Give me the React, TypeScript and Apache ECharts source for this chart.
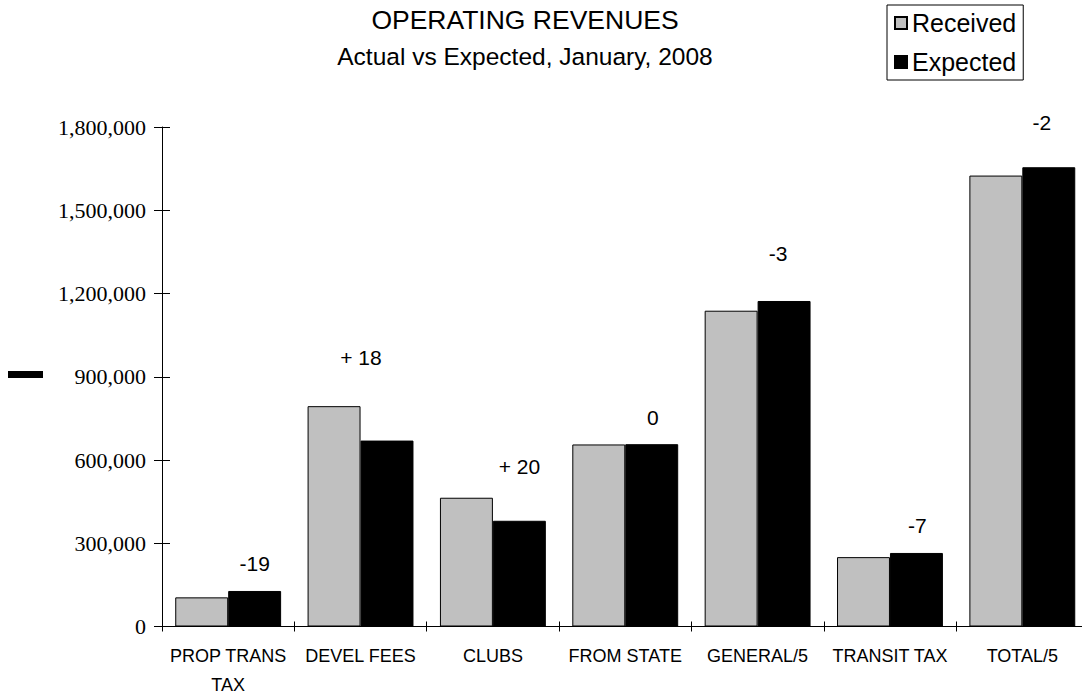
import React, { useEffect, useRef } from "react";
import * as echarts from "echarts";

const categories = ["PROP TRANS\nTAX", "DEVEL FEES", "CLUBS", "FROM STATE", "GENERAL/5", "TRANSIT TAX", "TOTAL/5"];
const received = [105000, 794000, 464000, 656000, 1138000, 250000, 1625000];
const expected = [128000, 670000, 381000, 657000, 1173000, 265000, 1655000];
const diffLabels = ["-19", "+ 18", "+ 20", "0", "-3", "-7", "-2"];
const yTicks = { min: 0, max: 1800000, interval: 300000 };

// label placement (layout only)
const labelOffsets = [[0, -16], [-26, -72], [0, -43], [1, -16], [-6, -36], [1, -16], [-7, -34]];

const SANS = "'Liberation Sans', Arial, sans-serif";
const SERIF = "'Liberation Serif', 'Times New Roman', serif";

export default function App() {
  const ref = useRef<HTMLDivElement>(null);
  useEffect(() => {
    if (!ref.current) return;
    const chart = echarts.init(ref.current, null, { renderer: "svg" });
    const fmt = (v: number) => v.toLocaleString("en-US");
    chart.setOption({
      animation: false,
      backgroundColor: "#fff",
      title: {
        text: "OPERATING REVENUES",
        subtext: "Actual vs Expected, January, 2008",
        left: 525,
        top: 5,
        textAlign: "center",
        padding: 0,
        itemGap: 6,
        textStyle: { fontFamily: SANS, fontSize: 26.5, fontWeight: "normal", color: "#000", lineHeight: 30 },
        subtextStyle: { fontFamily: SANS, fontSize: 24.5, color: "#000", lineHeight: 30 },
      },
      legend: {
        orient: "vertical",
        left: 887,
        top: 5,
        padding: [4, 7, 4, 7],
        itemGap: 11,
        itemWidth: 12,
        itemHeight: 12,
        icon: "rect",
        borderColor: "#000",
        borderWidth: 1,
        textStyle: { fontFamily: SANS, fontSize: 25, color: "#000", lineHeight: 28 },
        data: ["Received", "Expected"],
      },
      graphic: [
        { type: "rect", shape: { x: 8, y: 371, width: 35, height: 7 }, style: { fill: "#000" } },
      ],
      grid: {
        left: 162,
        right: -6.5,
        top: 127,
        bottom: 68.5,
        containLabel: false,
        outerBoundsMode: "none",
      },
      xAxis: [
        {
          type: "category",
          data: categories,
          position: "bottom",
          axisLine: { show: true, lineStyle: { color: "#000", width: 1 } },
          axisTick: { show: true, length: 5, inside: false, lineStyle: { color: "#000" } },
          axisLabel: {
            fontFamily: SANS,
            fontSize: 18,
            lineHeight: 29,
            color: "#000",
            margin: 15,
            interval: 0,
          },
          splitLine: { show: false },
        },
        {
          type: "category",
          data: categories,
          position: "bottom",
          axisLine: { show: false },
          axisTick: { show: true, length: 5, inside: true, lineStyle: { color: "#000" } },
          axisLabel: { show: false },
          splitLine: { show: false },
        },
      ],
      yAxis: [
        {
          type: "value",
          position: "left",
          min: yTicks.min,
          max: yTicks.max,
          interval: yTicks.interval,
          axisLine: { show: true, lineStyle: { color: "#000", width: 1 } },
          axisTick: { show: true, length: 8, inside: false, lineStyle: { color: "#000" } },
          axisLabel: { fontFamily: SERIF, fontSize: 22, color: "#000", margin: 16, formatter: fmt },
          splitLine: { show: false },
        },
        {
          type: "value",
          position: "left",
          min: yTicks.min,
          max: yTicks.max,
          interval: yTicks.interval,
          axisLine: { show: false },
          axisTick: { show: true, length: 8, inside: true, lineStyle: { color: "#000" } },
          axisLabel: { show: false },
          splitLine: { show: false },
        },
      ],
      series: [
        {
          name: "Received",
          type: "bar",
          data: received,
          barGap: "0%",
          barCategoryGap: "20%",
          itemStyle: { color: "#c0c0c0", borderColor: "#000", borderWidth: 1 },
        },
        {
          name: "Expected",
          type: "bar",
          data: expected.map((v, i) => ({
            value: v,
            label: {
              show: true,
              position: "top",
              distance: 0,
              offset: labelOffsets[i],
              formatter: diffLabels[i],
            },
          })),
          barGap: "0%",
          barCategoryGap: "20%",
          itemStyle: { color: "#000", borderColor: "#000", borderWidth: 1 },
          label: { fontFamily: SANS, fontSize: 21, lineHeight: 22, color: "#000" },
        },
      ],
    });
    return () => chart.dispose();
  }, []);
  return (
    <div
      ref={ref}
      style={{ position: "absolute", left: 0, top: 0, width: 1082, height: 695 }}
    />
  );
}
